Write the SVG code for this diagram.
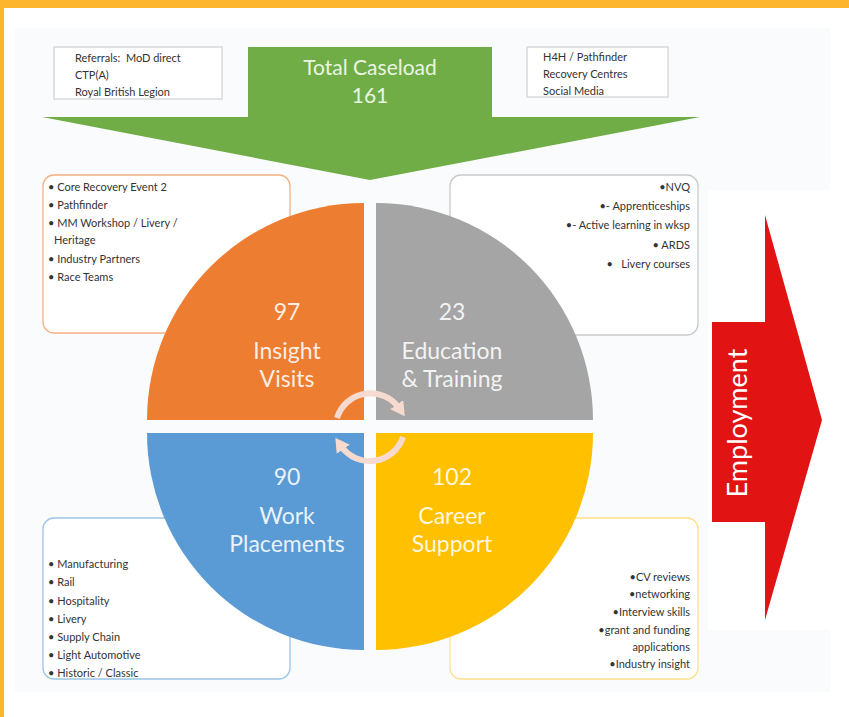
<svg xmlns="http://www.w3.org/2000/svg" width="849" height="717" viewBox="0 0 849 717">
<defs>
<style>
.frame{fill:#fcb52c}
.panel{fill:#fafbfc}
.tb{fill:#ffffff;stroke:#c8c8c8;stroke-width:1}
.box{fill:#ffffff;stroke-width:1.3}
.sm{font-family:Lato,"Open Sans",sans-serif;font-size:11px;fill:#333333;white-space:pre}
.big{font-family:Lato,"Open Sans",sans-serif;font-size:23px;fill:#ffffff;fill-opacity:0.88;text-anchor:middle}
.cyc{fill:none;stroke:#f6d9cf;stroke-width:6;marker-end:url(#ah)}
</style>
<marker id="ah" markerUnits="userSpaceOnUse" markerWidth="16" markerHeight="16" refX="4" refY="8" orient="auto">
<path d="M0,0 L14,8 L0,16 Z" fill="#f6d9cf"/>
</marker>
</defs>
<rect x="0" y="0" width="849" height="717" fill="#ffffff"/>
<rect class="panel" x="15" y="28" width="815" height="664"/>
<rect class="frame" x="0" y="0" width="849" height="8"/>
<rect class="frame" x="0" y="0" width="4" height="717"/>

<g id="caseload">
<path d="M248,47 H492 V117 H700 L370,180 L42,117 H248 Z" fill="#70ad47"/>
<text class="big" x="370" y="75" style="fill:#eaf5e0;fill-opacity:1;font-size:21px">Total Caseload</text>
<text class="big" x="370" y="103" style="fill:#eaf5e0;fill-opacity:1;font-size:21px">161</text>
</g>

<g id="referrals-left">
<rect class="tb" x="54" y="47" width="168" height="52"/>
<text class="sm" x="75" y="62" xml:space="preserve">Referrals:  MoD direct</text>
<text class="sm" x="75" y="79">CTP(A)</text>
<text class="sm" x="75" y="96">Royal British Legion</text>
</g>

<g id="referrals-right">
<rect class="tb" x="527" y="47" width="141" height="50"/>
<text class="sm" x="543" y="61">H4H / Pathfinder</text>
<text class="sm" x="543" y="78">Recovery Centres</text>
<text class="sm" x="543" y="95">Social Media</text>
</g>

<g id="insight-box">
<rect class="box" x="43" y="175" width="247" height="158" rx="11" stroke="#f4b183"/>
<text class="sm" x="48" y="191">• Core Recovery Event 2</text>
<text class="sm" x="48" y="209">• Pathfinder</text>
<text class="sm" x="48" y="227">• MM Workshop / Livery /</text>
<text class="sm" x="54" y="244">Heritage</text>
<text class="sm" x="48" y="263">• Industry Partners</text>
<text class="sm" x="48" y="281">• Race Teams</text>
</g>

<g id="education-box">
<rect class="box" x="450" y="175" width="248" height="160" rx="11" stroke="#c9c9c9"/>
<g style="text-anchor:end">
<text class="sm" x="690" y="191">•NVQ</text>
<text class="sm" x="690" y="210">•- Apprenticeships</text>
<text class="sm" x="690" y="229">•- Active learning in wksp</text>
<text class="sm" x="690" y="249">• ARDS</text>
<text class="sm" x="690" y="268" xml:space="preserve">•   Livery courses</text>
</g>
</g>

<g id="work-box">
<rect class="box" x="43" y="518" width="247" height="161" rx="11" stroke="#9dc3e6"/>
<text class="sm" x="48" y="568">• Manufacturing</text>
<text class="sm" x="48" y="586">• Rail</text>
<text class="sm" x="48" y="605">• Hospitality</text>
<text class="sm" x="48" y="623">• Livery</text>
<text class="sm" x="48" y="641">• Supply Chain</text>
<text class="sm" x="48" y="659">• Light Automotive</text>
<text class="sm" x="48" y="677">• Historic / Classic</text>
</g>

<g id="career-box">
<rect class="box" x="450" y="518" width="248" height="161" rx="11" stroke="#ffe08a"/>
<g style="text-anchor:end">
<text class="sm" x="690" y="581">•CV reviews</text>
<text class="sm" x="690" y="598">•networking</text>
<text class="sm" x="690" y="616">•Interview skills</text>
<text class="sm" x="690" y="634">•grant and funding</text>
<text class="sm" x="690" y="651">applications</text>
<text class="sm" x="690" y="668">•Industry insight</text>
</g>
</g>

<g id="insight">
<path d="M364,420 H147 A217,217 0 0 1 364,203 Z" fill="#ed7d31"/>
<text class="big" x="287" y="320">97</text>
<text class="big" x="287" y="359">Insight</text>
<text class="big" x="287" y="387">Visits</text>
</g>

<g id="education">
<path d="M376,420 V203 A217,217 0 0 1 593,420 Z" fill="#a5a5a5"/>
<text class="big" x="452" y="320">23</text>
<text class="big" x="452" y="359">Education</text>
<text class="big" x="452" y="387">&amp; Training</text>
</g>

<g id="work">
<path d="M364,433 V650 A217,217 0 0 1 147,433 Z" fill="#5b9bd5"/>
<text class="big" x="287" y="485">90</text>
<text class="big" x="287" y="524">Work</text>
<text class="big" x="287" y="552">Placements</text>
</g>

<g id="career">
<path d="M376,433 H593 A217,217 0 0 1 376,650 Z" fill="#ffc000"/>
<text class="big" x="452" y="485">102</text>
<text class="big" x="452" y="524">Career</text>
<text class="big" x="452" y="552">Support</text>
</g>

<g id="connectors">
<path class="cyc" d="M337,418 A35,35 0 0 1 399,408"/>
<path class="cyc" d="M403,437 A35,35 0 0 1 341,446"/>
</g>

<g id="employment">
<rect x="708" y="190" width="122" height="440" fill="#ffffff"/>
<path d="M712,322 H765 V215 L822,420 L765,620 V522 H712 Z" fill="#e11313"/>
<text x="0" y="0" transform="translate(747,423) rotate(-90)" style="font-family:Lato,'Open Sans',sans-serif;font-size:27px;fill:#ffffff;text-anchor:middle">Employment</text>
</g>
</svg>
